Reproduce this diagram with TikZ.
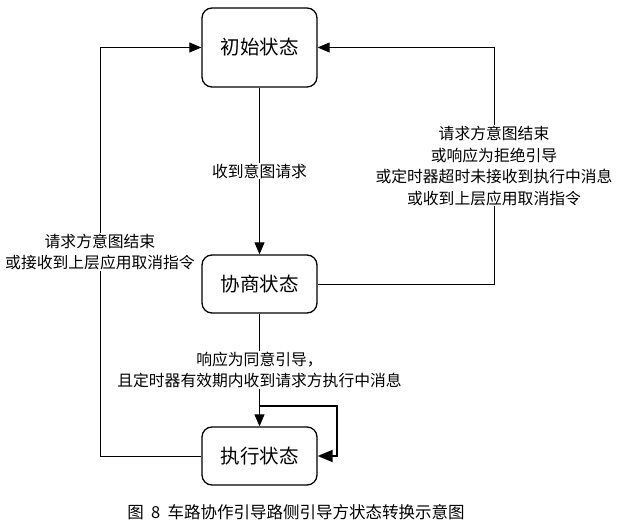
\documentclass[tikz,border=0pt]{standalone}
\usepackage{fontspec}
\setmainfont{Noto Sans CJK SC}
\usetikzlibrary{arrows.meta}
\begin{document}
\begin{tikzpicture}[x=1pt,y=-1pt,
  state/.style={draw, line width=1.3pt, rounded corners=10pt, minimum width=115pt, minimum height=58pt, inner sep=0pt, font=\fontsize{19.5}{22}\selectfont},
  conn/.style={line width=0.9pt, -{Triangle[length=12pt,width=10pt]}},
  loopc/.style={line width=1.8pt, -{Triangle[length=15pt,width=12pt]}},
  lbl/.style={fill=white, align=center, inner sep=1pt, font=\fontsize{15.8}{21.5}\selectfont}]
\useasboundingbox (0,0) rectangle (619,529);
\node[state, minimum height=79pt] (init) at (259.5,47.5) {初始状态};
\node[state] (neg) at (259.5,284) {协商状态};
\node[state] (exec) at (259.5,456) {执行状态};
\coordinate (R) at (494,284);
\coordinate (L) at (100,456);
\coordinate (LT) at (100,47.5);
\coordinate (lp) at (259.5,406);
\coordinate (lr) at (337,406);
\coordinate (lb) at (337,456);
\draw[conn] (init) -- node[lbl]{收到意图请求} (neg);
\draw[conn] (neg.east) -- (R) |- node[lbl, pos=0.25]{请求方意图结束\\或响应为拒绝引导\\或定时器超时未接收到执行中消息\\或收到上层应用取消指令} (init.east);
\draw[conn] (exec.west) -- (L) -- node[lbl]{请求方意图结束\\或接收到上层应用取消指令} (LT) -- (init.west);
\draw[conn] (neg) -- node[lbl]{响应为同意引导，\\且定时器有效期内收到请求方执行中消息} (exec);
\draw[loopc] (lp) -- (lr) -- (lb) -- (exec.east);
\node[font=\fontsize{16.5}{19}\selectfont] (cap) at (296,512) {图\ \ 8\ \ 车路协作引导路侧引导方状态转换示意图};
\end{tikzpicture}
\end{document}
